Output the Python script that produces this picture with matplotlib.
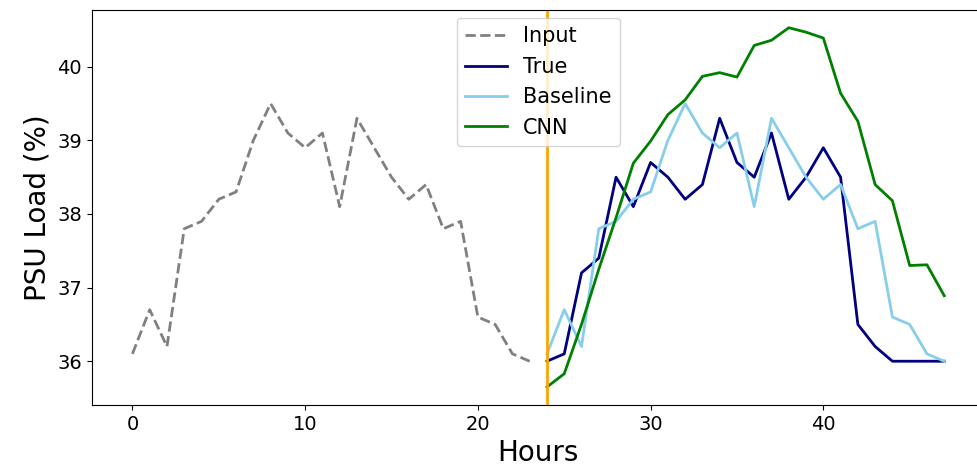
import matplotlib
matplotlib.use("Agg")
import matplotlib.pyplot as plt
import numpy as np

hours_in = list(range(0, 24))
hours_out = list(range(24, 48))

input_vals = [36.1, 36.7, 36.2, 37.8, 37.9, 38.2, 38.3, 39.0, 39.5, 39.1, 38.9, 39.1,
              38.1, 39.3, 38.9, 38.5, 38.2, 38.4, 37.8, 37.9, 36.6, 36.5, 36.1, 36.0]
true_vals = [36.0, 36.1, 37.2, 37.4, 38.5, 38.1, 38.7, 38.5, 38.2, 38.4, 39.3, 38.7,
             38.5, 39.1, 38.2, 38.5, 38.9, 38.5, 36.5, 36.2, 36.0, 36.0, 36.0, 36.0]
baseline_vals = [36.1, 36.7, 36.2, 37.8, 37.9, 38.2, 38.3, 39.0, 39.5, 39.1, 38.9, 39.1,
                 38.1, 39.3, 38.9, 38.5, 38.2, 38.4, 37.8, 37.9, 36.6, 36.5, 36.1, 36.0]
cnn_vals = [35.65, 35.83, 36.5, 37.25, 37.95, 38.69, 38.99, 39.35, 39.55, 39.87, 39.92, 39.86,
            40.29, 40.36, 40.53, 40.47, 40.39, 39.64, 39.26, 38.40, 38.18, 37.30, 37.31, 36.89]

fig = plt.figure(figsize=(9.77, 4.66), dpi=100)
ax = fig.add_axes([0.094, 0.131, 0.914, 0.848])

ax.plot(hours_in, input_vals, '--', color='gray', lw=2, label='Input')
ax.plot(hours_out, true_vals, color='navy', lw=2, label='True')
ax.plot(hours_out, baseline_vals, color='skyblue', lw=2, label='Baseline')
ax.plot(hours_out, cnn_vals, color='green', lw=2, label='CNN')
ax.axvline(24, color='orange', lw=2)

ax.set_xlabel('Hours', fontsize=20)
ax.set_ylabel('PSU Load (%)', fontsize=20)
ax.tick_params(labelsize=14)
ax.legend(loc='upper center', fontsize=15, borderaxespad=0.4)

fig.savefig('out.png', dpi=100)
